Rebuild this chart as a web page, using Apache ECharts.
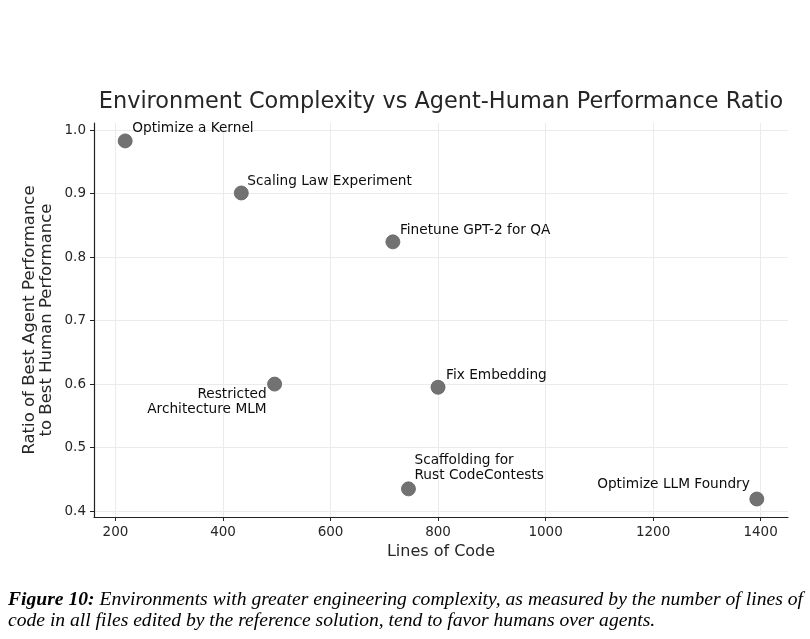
<!doctype html>
<html lang="en">
<head>
<meta charset="utf-8">
<script src="https://cdn.jsdelivr.net/npm/echarts@6/dist/echarts.min.js"></script>
<style>
    html, body { margin: 0; padding: 0; background: #fff; }
    #wrap { position: relative; width: 810px; height: 639px; }
    #chart { width: 810px; height: 639px; }
    .caption {
        position: absolute; left: 8px; width: 795px;
        font-family: "Liberation Serif", serif; font-style: italic; font-size: 19.6px;
        line-height: 21px; color: #000; white-space: nowrap;
    }
    .caption b { font-weight: bold; }
    .caption.first { top: 588px; text-align: justify; text-align-last: justify; }
    .caption.second { top: 609px; }
</style>
</head>
<body>
<div id="wrap">
    <div id="chart"></div>
    <div class="caption first"><b>Figure 10:</b> Environments with greater engineering complexity, as measured by the number of lines of</div>
    <div class="caption second">code in all files edited by the reference solution, tend to favor humans over agents.</div>
</div>
<script>
    // values
    const tasks = ['Optimize a Kernel', 'Scaling Law Experiment', 'Finetune GPT-2 for QA',
        'Restricted\nArchitecture MLM', 'Fix Embedding', 'Scaffolding for\nRust CodeContests',
        'Optimize LLM Foundry'];
    const linesOfCode = [218, 434, 716, 496, 800, 745, 1393];
    const perfRatio = [0.983, 0.901, 0.824, 0.600, 0.595, 0.435, 0.419];
    const xTicks = [200, 400, 600, 800, 1000, 1200, 1400];
    const yTicks = [0.4, 0.5, 0.6, 0.7, 0.8, 0.9, 1.0];

    // where each annotation sits relative to its point
    const labelPlace = [
        {align: 'left', offset: [7, -12]},
        {align: 'left', offset: [6, -12]},
        {align: 'left', offset: [7, -11]},
        {align: 'right', offset: [-8, 18]},
        {align: 'left', offset: [8, -12]},
        {align: 'left', offset: [6, -21]},
        {align: 'right', offset: [-7, -15]}
    ];

    const font = 'DejaVu Sans';
    const ink = '#262626';

    let points = [];
    for (let i = 0; i < tasks.length; i++) {
        points.push({
            value: [linesOfCode[i], perfRatio[i]],
            label: {
                formatter: tasks[i],
                align: labelPlace[i].align,
                offset: labelPlace[i].offset
            }
        });
    }

    let chart = echarts.init(document.getElementById('chart'));
    chart.setOption({
        animation: false,
        grid: {left: 94, right: 22, top: 123, bottom: 122},
        xAxis: {
            type: 'value', min: 160, max: 1451,
            name: 'Lines of Code', nameLocation: 'middle', nameGap: 26,
            nameTextStyle: {fontFamily: font, fontSize: 16, color: ink},
            axisLine: {lineStyle: {color: '#222', width: 1.2}},
            axisTick: {customValues: xTicks, length: 4, lineStyle: {color: '#222'}},
            axisLabel: {customValues: xTicks, margin: 8, fontFamily: font, fontSize: 13.5, color: ink,
                formatter: v => String(v)},
            splitLine: {show: true, lineStyle: {color: '#ebebeb', width: 1}}
        },
        yAxis: {
            type: 'value', min: 0.3907, max: 1.0112,
            axisLine: {show: true, lineStyle: {color: '#222', width: 1.2}},
            axisTick: {show: true, customValues: yTicks, length: 4, lineStyle: {color: '#222'}},
            axisLabel: {customValues: yTicks, margin: 8, fontFamily: font, fontSize: 13.5, color: ink,
                formatter: v => v.toFixed(1)},
            splitLine: {show: true, lineStyle: {color: '#ebebeb', width: 1}}
        },
        graphic: [
            {
                type: 'text', x: 441, y: 102,
                style: {text: 'Environment Complexity vs Agent-Human Performance Ratio',
                    font: '22.4px "' + font + '"', fill: ink, align: 'center', verticalAlign: 'middle'}
            },
            {
                type: 'text', x: 38, y: 320, rotation: Math.PI / 2,
                style: {text: 'Ratio of Best Agent Performance\nto Best Human Performance',
                    font: '16.5px "' + font + '"', lineHeight: 17.4, fill: ink, align: 'center', verticalAlign: 'middle'}
            }
        ],
        series: [{
            type: 'scatter',
            data: points,
            symbolSize: 14,
            itemStyle: {color: '#727272', borderColor: '#5f5f5f', borderWidth: 0.8, opacity: 1},
            label: {show: true, position: 'inside', verticalAlign: 'middle',
                fontFamily: font, fontSize: 13.7, lineHeight: 15, color: '#0d0d0d',
                textBorderWidth: 0, textBorderColor: 'transparent'}
        }]
    });
</script>
</body>
</html>
